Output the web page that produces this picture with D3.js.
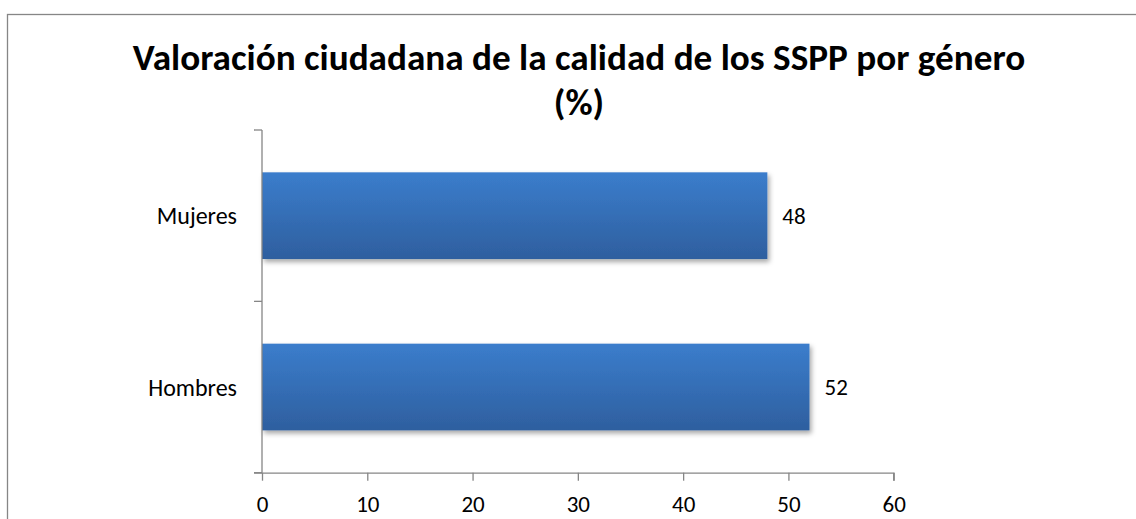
<!DOCTYPE html>
<html>
<head>
<meta charset="utf-8">
<script src="https://cdn.jsdelivr.net/npm/d3@7"></script>
<style>
  html, body { margin: 0; padding: 0; background: #fff; }
  svg { display: block; }
</style>
</head>
<body>
<script>
    // data
    var categories = ["Mujeres", "Hombres"];
    var values = [48, 52];
    var xTicks = [0, 10, 20, 30, 40, 50, 60];
    var titleLines = ["Valoración ciudadana de la calidad de los SSPP por género", "(%)"];

    var width = 1136, height = 519;
    var font = "Carlito, Calibri, Lato, sans-serif";
    var axisColor = "#868686";

    var svg = d3.select("body").append("svg")
        .attr("width", width)
        .attr("height", height);

    var defs = svg.append("defs");
    var grad = defs.append("linearGradient")
        .attr("id", "barFill")
        .attr("x1", 0).attr("y1", 0).attr("x2", 0).attr("y2", 1);
    grad.append("stop").attr("offset", "0%").attr("stop-color", "#3b7dcc");
    grad.append("stop").attr("offset", "100%").attr("stop-color", "#2e5f9f");

    var shadow = defs.append("filter")
        .attr("id", "shadow")
        .attr("x", "-10%").attr("y", "-20%")
        .attr("width", "130%").attr("height", "160%");
    shadow.append("feDropShadow")
        .attr("dx", 2).attr("dy", 3)
        .attr("stdDeviation", 2.5)
        .attr("flood-color", "#000")
        .attr("flood-opacity", 0.35);

    // chart frame, runs off the right and bottom edges
    svg.append("rect")
        .attr("x", 7.5).attr("y", 14.5)
        .attr("width", 1143).attr("height", 600)
        .attr("fill", "#fff")
        .attr("stroke", axisColor)
        .attr("stroke-width", 1.3);

    // title
    var title = svg.append("text")
        .attr("text-anchor", "middle")
        .attr("font-family", font)
        .attr("font-weight", "bold")
        .attr("font-size", 37.2)
        .attr("fill", "#000");
    title.selectAll("tspan").data(titleLines).enter().append("tspan")
        .attr("x", 579)
        .attr("y", function (d, i) { return 70 + i * 45; })
        .text(function (d) { return d; });

    var plot = { left: 262, right: 893.7, top: 130, bottom: 472.7 };

    var x = d3.scaleLinear()
        .domain([0, 60])
        .range([plot.left, plot.right]);

    var y = d3.scaleBand()
        .domain(categories)
        .range([plot.top, plot.bottom])
        .paddingInner(0.494)
        .paddingOuter(0.247);

    // bars
    svg.append("g").selectAll("rect")
        .data(values)
        .enter().append("rect")
        .attr("x", x(0))
        .attr("y", function (d, i) { return y(categories[i]); })
        .attr("width", function (d) { return x(d) - x(0); })
        .attr("height", y.bandwidth())
        .attr("fill", "url(#barFill)")
        .attr("filter", "url(#shadow)");

    // value labels
    svg.append("g").selectAll("text")
        .data(values)
        .enter().append("text")
        .attr("x", function (d) { return x(d) + 15; })
        .attr("y", function (d, i) { return y(categories[i]) + y.bandwidth() / 2; })
        .attr("dy", "0.36em")
        .attr("font-family", font)
        .attr("font-size", 23)
        .attr("fill", "#000")
        .text(function (d) { return d; });

    // category labels
    svg.append("g").selectAll("text")
        .data(categories)
        .enter().append("text")
        .attr("x", plot.left - 25)
        .attr("y", function (d) { return y(d) + y.bandwidth() / 2; })
        .attr("dy", "0.36em")
        .attr("text-anchor", "end")
        .attr("font-family", font)
        .attr("font-size", 24)
        .attr("fill", "#000")
        .text(function (d) { return d; });

    // y axis: line plus ticks at the band edges
    var yEdges = [plot.top, (plot.top + plot.bottom) / 2, plot.bottom];
    var yAxis = svg.append("g").attr("stroke", axisColor).attr("stroke-width", 1.3);
    yAxis.append("line")
        .attr("x1", plot.left).attr("x2", plot.left)
        .attr("y1", plot.top).attr("y2", plot.bottom);
    yAxis.selectAll("line.tick").data(yEdges).enter().append("line")
        .attr("class", "tick")
        .attr("x1", plot.left - 8).attr("x2", plot.left)
        .attr("y1", function (d) { return d; })
        .attr("y2", function (d) { return d; });

    // x axis
    var xAxis = svg.append("g")
        .attr("transform", "translate(0," + plot.bottom + ")")
        .call(d3.axisBottom(x).tickValues(xTicks).tickSize(8).tickPadding(15).tickFormat(d3.format("d")));
    xAxis.select(".domain").attr("stroke", axisColor).attr("stroke-width", 1.3)
        .attr("d", "M" + (plot.left - 8) + ",0.5H" + plot.right + "V8");
    xAxis.selectAll(".tick line").attr("stroke", axisColor).attr("stroke-width", 1.3);
    xAxis.selectAll(".tick text")
        .attr("font-family", font)
        .attr("font-size", 23)
        .attr("fill", "#000");
</script>
</body>
</html>
